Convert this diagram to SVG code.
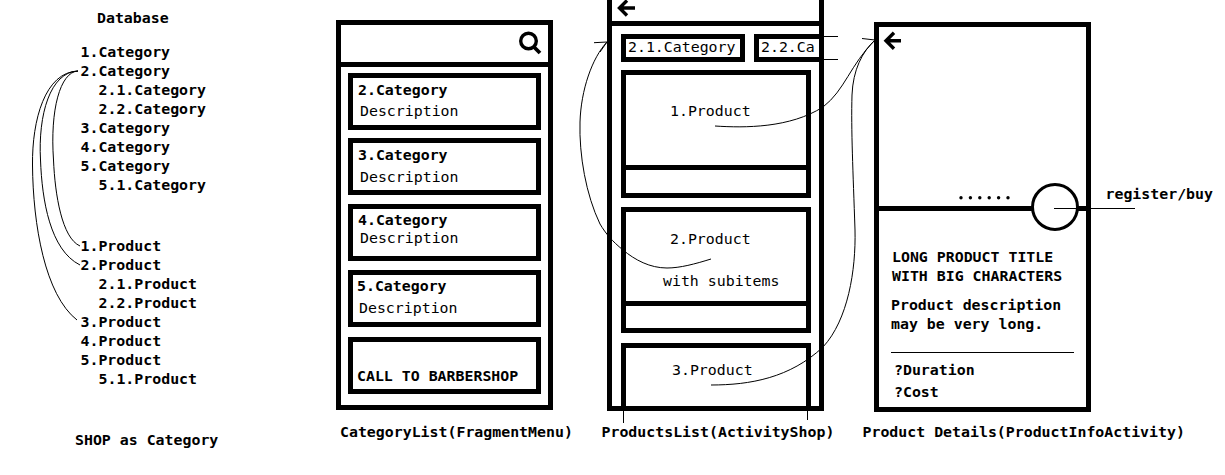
<svg xmlns="http://www.w3.org/2000/svg" width="1225" height="475" viewBox="0 0 1225 475">
<style>
text{font-family:"DejaVu Sans Mono","Liberation Mono",monospace;font-size:14.88px;fill:#000}
.b{font-weight:bold}
.box{fill:none;stroke:#000;stroke-width:5}
.ln{fill:none;stroke:#000;stroke-width:5}
.thin{fill:none;stroke:#000;stroke-width:1}
.ico{fill:none;stroke:#000;stroke-width:3.4}
</style>
<rect width="1225" height="475" fill="#fff"/>
<g id="database" class="b">
<text x="97" y="23">Database</text>
<text x="80.500" y="57">1.Category</text>
<text x="80.500" y="76">2.Category</text>
<text x="98.500" y="95">2.1.Category</text>
<text x="98.500" y="114">2.2.Category</text>
<text x="80.500" y="133">3.Category</text>
<text x="80.500" y="152">4.Category</text>
<text x="80.500" y="171">5.Category</text>
<text x="98.500" y="190">5.1.Category</text>
<text x="80.500" y="251">1.Product</text>
<text x="80.500" y="270">2.Product</text>
<text x="98.500" y="289">2.1.Product</text>
<text x="98.500" y="308">2.2.Product</text>
<text x="80.500" y="327">3.Product</text>
<text x="80.500" y="346">4.Product</text>
<text x="80.500" y="365">5.Product</text>
<text x="98.500" y="384">5.1.Product</text>
<text x="75" y="445">SHOP as Category</text>
</g>
<g id="category-list">
<rect class="box" x="338.500" y="22.500" width="212" height="385"/>
<path class="ln" d="M338 64.500H551"/>
<circle class="ico" cx="528.500" cy="41" r="7.800"/>
<path d="M533.500 46.500L540 53" fill="none" stroke="#000" stroke-width="3.800"/>
<rect class="box" x="350.500" y="75.500" width="188" height="52"/>
<rect class="box" x="350.500" y="140.500" width="188" height="52"/>
<rect class="box" x="350.500" y="206.500" width="188" height="52"/>
<rect class="box" x="350.500" y="272.500" width="188" height="52"/>
<rect class="box" x="350.500" y="339.500" width="188" height="52"/>
<text class="b" x="358" y="95">2.Category</text>
<text x="360" y="116">Description</text>
<text class="b" x="358" y="160">3.Category</text>
<text x="360" y="182">Description</text>
<text class="b" x="358" y="225">4.Category</text>
<text x="360" y="243">Description</text>
<text class="b" x="357" y="291">5.Category</text>
<text x="359" y="313">Description</text>
<text class="b" x="357" y="381">CALL TO BARBERSHOP</text>
<text class="b" x="340" y="437">CategoryList(FragmentMenu)</text>
</g>
<g id="products-list">
<path class="ln" d="M609.500 0V408.500H821.500V0"/>
<path class="ln" d="M610 23.500H822"/>
<path class="ico" d="M635 8H621M627 0.500L619.500 8L627 15.500"/>
<rect class="box" x="623.500" y="36.500" width="119" height="23"/>
<path class="ln" d="M822 36.500H756.500V59.500H822"/>
<path class="thin" d="M820 36.500H838M820 59.500H838"/>
<text x="628" y="52">2.1.Category</text>
<text x="761" y="52">2.2.Ca</text>
<rect class="box" x="623.500" y="72.500" width="185" height="123"/>
<path class="ln" d="M623 167.500H809"/>
<text x="670" y="116">1.Product</text>
<rect class="box" x="623.500" y="209.500" width="185" height="121"/>
<path class="ln" d="M623 303.500H809"/>
<text x="670" y="244">2.Product</text>
<text x="663" y="286">with subitems</text>
<path class="ln" d="M623.500 408V345.500H808.500V408"/>
<path class="thin" d="M623.500 408V423M807.500 408V420"/>
<text x="672" y="375">3.Product</text>
<text class="b" x="601.500" y="437">ProductsList(ActivityShop)</text>
</g>
<g id="product-details">
<rect class="box" x="876.500" y="24.500" width="212" height="385"/>
<path class="ln" d="M876 208.500H1089"/>
<path class="ico" d="M901 40.700H887M894 32.700L886 40.700L894 48.700"/>
<g fill="#000">
<circle cx="961" cy="197.700" r="1.700"/><circle cx="970.400" cy="197.700" r="1.700"/><circle cx="979.800" cy="197.700" r="1.700"/><circle cx="989.200" cy="197.700" r="1.700"/><circle cx="998.600" cy="197.700" r="1.700"/><circle cx="1008" cy="197.700" r="1.700"/>
</g>
<circle cx="1055" cy="207" r="22.500" fill="#fff" stroke="#000" stroke-width="3"/>
<path class="thin" d="M1054 208.500H1135"/>
<text class="b" x="1105.500" y="199">register/buy</text>
<text class="b" x="892" y="262">LONG PRODUCT TITLE</text>
<text class="b" x="892" y="281">WITH BIG CHARACTERS</text>
<text class="b" x="891" y="310">Product description</text>
<text class="b" x="891" y="329">may be very long.</text>
<path class="thin" d="M891 352.500H1074"/>
<text class="b" x="894" y="375">?Duration</text>
<text class="b" x="894" y="397">?Cost</text>
<text class="b" x="862.500" y="437">Product Details(ProductInfoActivity)</text>
</g>
<g id="connectors" class="thin">
<path d="M78 71C60 72 50 110 53.500 160C55 195 62 238 80 246"/>
<path d="M78 71C50 72 38 115 40.500 160C42 200 50 250 80 265"/>
<path d="M78 71C45 72 32 120 32.500 165C33 225 45 295 77 320"/>
<path d="M711 259C695 264 680 268 667 268C650 268 635 260 623 250C612 241 606 234 600 224C586 195 579 155 580 122C581 90 592 58 607 42M594 42.700L607 42L600 52"/>
<path d="M715 126C745 128 790 128 823 107C845 90 850 65 875 40M862 38.500L875 40"/>
<path d="M711 385C750 385 790 378 823 347C848 320 856 270 855 230C853 170 851 130 852 95C853 70 862 52 875 40"/>
</g>
</svg>
